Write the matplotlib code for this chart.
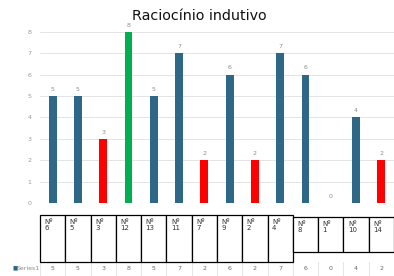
import matplotlib.pyplot as plt
import matplotlib.transforms as mtransforms
from matplotlib.patches import Rectangle
import numpy as np

# dados
alunos = ['6', '5', '3', '12', '13', '11', '7', '9', '2', '4', '8', '1', '10', '14']
valores = [5, 5, 3, 8, 5, 7, 2, 6, 2, 7, 6, 0, 4, 2]
cores = ['#2f6787', '#2f6787', '#ff0000', '#00b050', '#2f6787', '#2f6787', '#ff0000',
         '#2f6787', '#ff0000', '#2f6787', '#2f6787', '#2f6787', '#2f6787', '#ff0000']
titulo = 'Raciocínio indutivo'
serie = 'Series1'

W, H = 394, 276
fig = plt.figure(figsize=(W / 100, H / 100), dpi=100)

# eixo principal
ax = fig.add_axes([40 / W, 1 - 203 / H, 354 / W, (203 - 21.3) / H])
x = np.arange(len(valores))
ax.bar(x, valores, width=0.31, color=cores, zorder=3)
for xi, v in zip(x, valores):
    ax.text(xi, v + 0.2, str(v), ha='center', va='bottom', fontsize=4.5, color='#8c8c8c')

ax.set_xlim(-0.5, len(valores) - 0.5)
ax.set_ylim(0, 8.5)
ax.set_yticks(range(0, 9))
ax.tick_params(axis='y', length=0, labelsize=4.5, labelcolor='#9a9a9a', pad=6)
ax.set_xticks([])
ax.grid(axis='y', color='#e4e4e4', linewidth=0.7, zorder=0)
for s in ax.spines.values():
    s.set_visible(False)

fig.text(199 / W, 1 - 16 / H, titulo, ha='center', va='center', fontsize=10.3, color='#111111')

# caixas com os nomes
tr = mtransforms.blended_transform_factory(ax.transData, fig.transFigure)
for i, nome in enumerate(alunos):
    if i < 10:
        topo, base = 215, 262
    else:
        topo, base = 217, 252
    ax.add_patch(Rectangle((i - 0.5, 1 - base / H), 1, (base - topo) / H, transform=tr,
                           facecolor='white', edgecolor='black', linewidth=0.9,
                           clip_on=False, zorder=5))
    ax.text(i - 0.32, 1 - (topo + 4) / H, 'Nº\n' + nome, transform=tr, ha='left', va='top',
            fontsize=5, color='#333333', linespacing=1.1, zorder=6)

# tabela de dados
ax.text(-0.5 - 28 / 25.3, 1 - 268 / H, '■', transform=tr, ha='left', va='center',
        fontsize=4, color='#2f6787')
ax.text(-0.5 - 23 / 25.3, 1 - 268 / H, serie, transform=tr, ha='left', va='center',
        fontsize=4.5, color='#8c8c8c')
for i, v in enumerate(valores):
    ax.text(i, 1 - 268 / H, str(v), transform=tr, ha='center', va='center',
            fontsize=4.5, color='#666666')
    ax.plot([i - 0.5, i - 0.5], [1 - 262 / H, 0], transform=tr, color='#e0e0e0',
            linewidth=0.6, clip_on=False)

fig.savefig('out.png', dpi=100)
